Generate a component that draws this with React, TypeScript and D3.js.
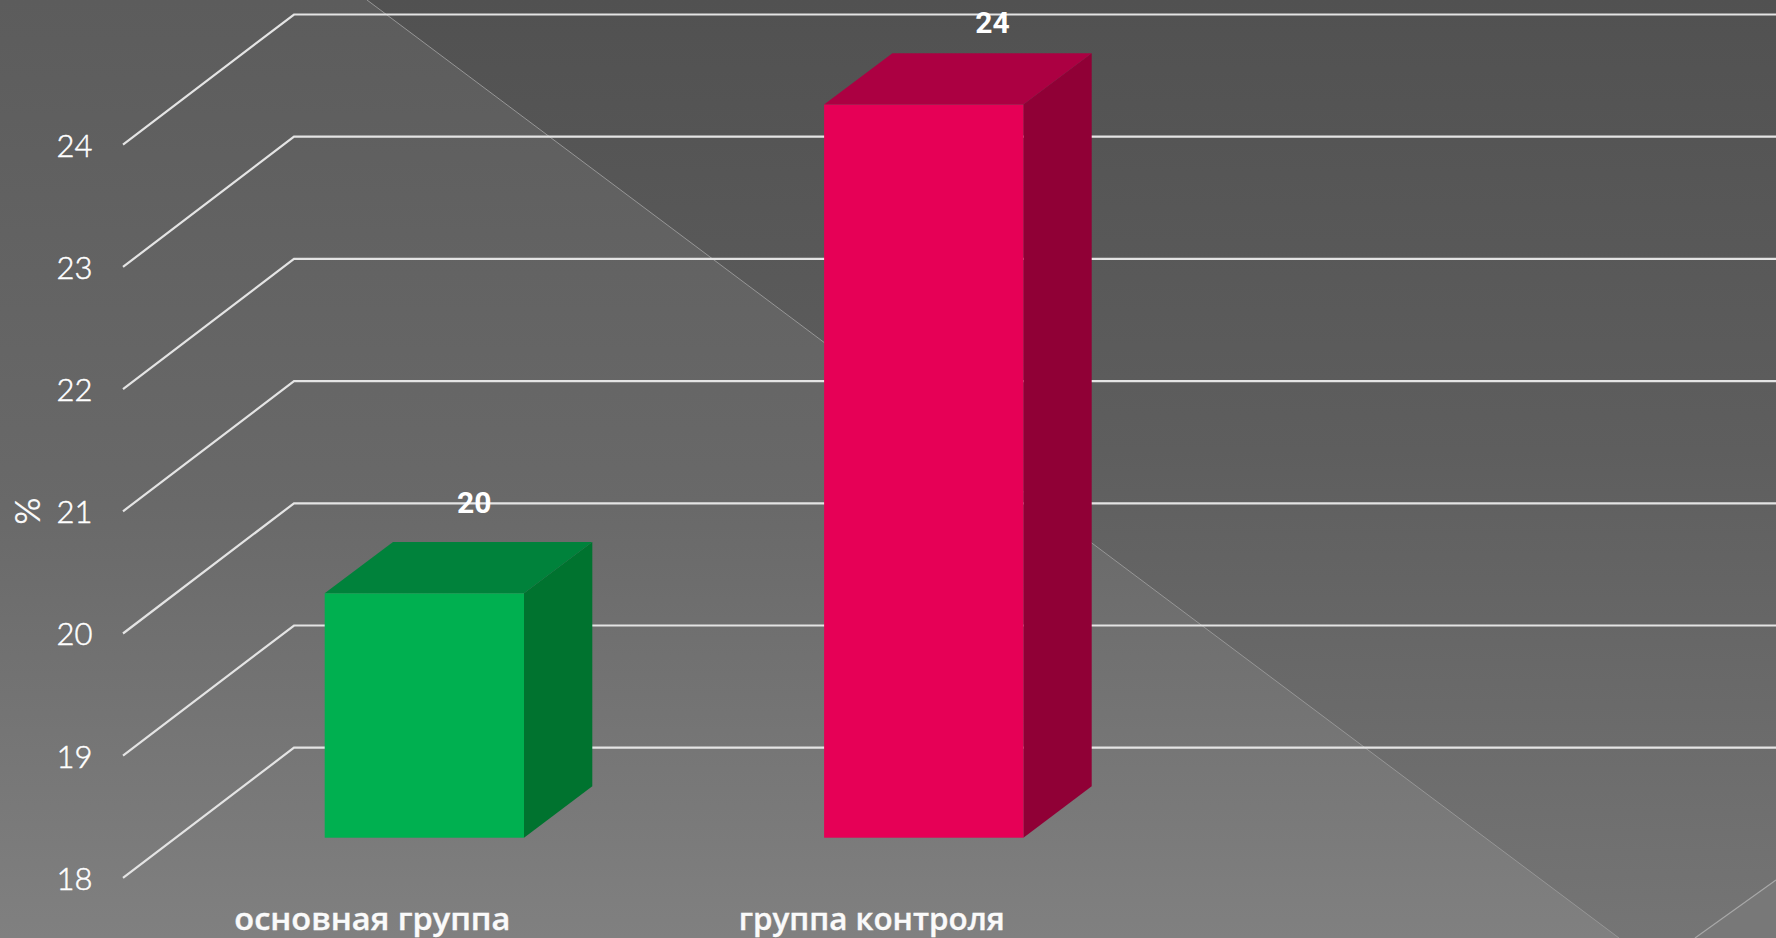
import React from "react";
import * as d3 from "d3";

const categories = ["основная группа", "группа контроля"];
const values = [20, 24];
const tickValues = [18, 19, 20, 21, 22, 23, 24];
const axisTitle = "%";
const barFronts = ["#00B050", "#E60056"];
const barTops = ["#00823B", "#AC0042"];
const barSides = ["#00732F", "#900036"];

const W = 1776;
const H = 938;
const DEPTH_X = 68.3;
const DEPTH_Y = 51.4;
const BAR_W = 199.3;
const GRID_DX = 171;
const GRID_DY = 130.2;

const yBack = d3.scaleLinear().domain([18, 24]).range([747.7, 14.5]);
const yBar = d3.scaleLinear().domain([18, 24]).range([837.7, 104.6]);
const xBar = d3.scalePoint<string>().domain(categories).range([324.7, 824.1]);

const catLabelWidths = [276, 266];
const valueNudge: [number, number][] = [
  [-18.5, 28.5],
  [0.5, 20.5],
];

export default function App() {
  const line = d3.line();
  const fontThin = "Lato, 'Open Sans', sans-serif";
  const fontCat = "'Open Sans', 'Noto Sans', sans-serif";
  return (
    <svg
      width={W}
      height={H}
      viewBox={`0 0 ${W} ${H}`}
      style={{ position: "fixed", left: 0, top: 0, display: "block" }}
    >
      <defs>
        <linearGradient id="bgLight" x1="0" y1="0" x2="0" y2="1">
          <stop offset="0" stopColor="#5c5c5c" />
          <stop offset="0.54" stopColor="#696969" />
          <stop offset="1" stopColor="#808080" />
        </linearGradient>
        <linearGradient id="bgDark" x1="0" y1="0" x2="0" y2="1">
          <stop offset="0" stopColor="#515151" />
          <stop offset="0.48" stopColor="#5e5e5e" />
          <stop offset="1" stopColor="#757575" />
        </linearGradient>
      </defs>
      <rect width={W} height={H} fill="url(#bgDark)" />
      <path d={`M0 0L367 0L1619 938L0 938Z`} fill="url(#bgLight)" />
      <path d={`M1695 938L1776 880L1776 938Z`} fill="#787878" />
      <path d="M367 0L1619 938" stroke="#969696" strokeWidth={1} fill="none" />
      <path d="M1695 938L1776 880" stroke="#a8a8a8" strokeWidth={1.2} fill="none" />

      {tickValues.map((t) => {
        const by = yBack(t);
        return (
          <g key={t}>
            <path
              d={line([
                [123, by + GRID_DY],
                [123 + GRID_DX, by],
                [W, by],
              ]) as string}
              fill="none"
              stroke="#e4e4e4"
              strokeWidth={2.2}
            />
            <text
              x={92.5}
              y={by + GRID_DY + 11.8}
              textAnchor="end"
              fontFamily={fontThin}
              fontWeight={300}
              fontSize={31}
              fill="#ffffff"
              stroke="#ffffff"
              strokeWidth={0.5}
            >
              {t}
            </text>
          </g>
        );
      })}

      <text
        transform="translate(40,511) rotate(-90)"
        textAnchor="middle"
        fontFamily={fontThin}
        fontWeight={400}
        fontSize={34}
        fill="#f8f8f8"
      >
        {axisTitle}
      </text>

      {categories.map((c, i) => {
        const x = xBar(c) as number;
        const top = yBar(values[i]);
        const bottom = yBar(18);
        const r = x + BAR_W;
        const poly = (p: [number, number][]) => (line(p) as string) + "Z";
        return (
          <g key={c}>
            <path
              d={poly([
                [r, top],
                [r + DEPTH_X, top - DEPTH_Y],
                [r + DEPTH_X, bottom - DEPTH_Y],
                [r, bottom],
              ])}
              fill={barSides[i]}
            />
            <path
              d={poly([
                [x, top],
                [x + DEPTH_X, top - DEPTH_Y],
                [r + DEPTH_X, top - DEPTH_Y],
                [r, top],
              ])}
              fill={barTops[i]}
            />
            <rect x={x} y={top} width={BAR_W} height={bottom - top} fill={barFronts[i]} />
            <text
              x={x + BAR_W / 2 + DEPTH_X + valueNudge[i][0]}
              y={top - DEPTH_Y - valueNudge[i][1]}
              textAnchor="middle"
              fontFamily="Roboto, sans-serif"
              fontWeight={700}
              fontSize={30}
              fill="#ffffff"
            >
              {values[i]}
            </text>
            <text
              x={x + BAR_W / 2 - 52}
              y={930}
              textAnchor="middle"
              fontFamily={fontCat}
              fontWeight={600}
              fontSize={31}
              fill="#fafafa"
              stroke="#fafafa"
              strokeWidth={0.4}
              textLength={catLabelWidths[i]}
              lengthAdjust="spacingAndGlyphs"
            >
              {c}
            </text>
          </g>
        );
      })}
    </svg>
  );
}
